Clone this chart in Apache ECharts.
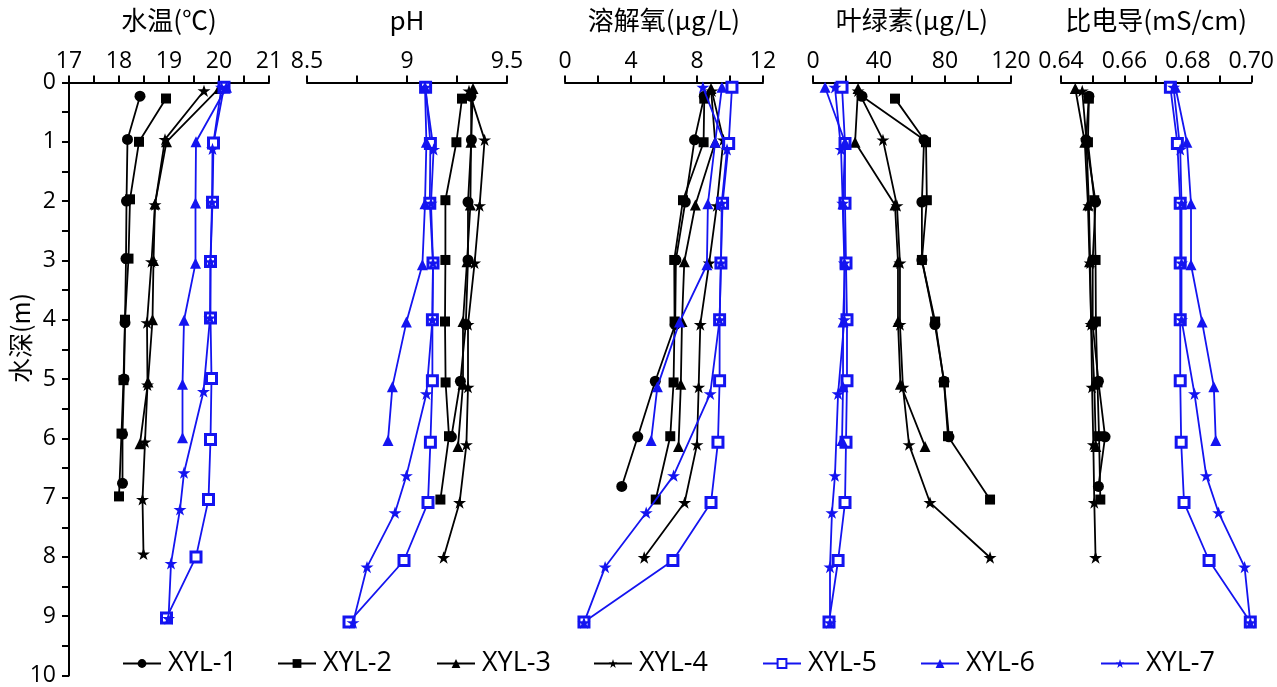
<!DOCTYPE html>
<html><head><meta charset="utf-8">
<script src="https://cdn.jsdelivr.net/npm/echarts@6/dist/echarts.min.js"></script>
<style>html,body{margin:0;padding:0;background:#fff}#c{width:1277px;height:687px}</style>
</head><body><div id="c"></div>
<script>
// ---- data ----
const seriesNames = ['XYL-1','XYL-2','XYL-3','XYL-4','XYL-5','XYL-6','XYL-7'];
const panelNames = ['水温(℃)','pH','溶解氧(μg/L)','叶绿素(μg/L)','比电导(mS/cm)'];

const depth1 = [0.23, 0.96, 2.0, 2.97, 4.05, 5.0, 5.93, 6.76];
const temp1  = [18.42, 18.17, 18.15, 18.14, 18.12, 18.1, 18.07, 18.07];
const ph1    = [9.32, 9.322, 9.305, 9.305, 9.294, 9.267, 9.222, null];
const do1    = [8.44, 7.85, 7.29, 6.72, 6.68, 5.47, 4.41, 3.44];
const chl1   = [29.7, 67.3, 66, 66, 73.9, 79.4, 82.4, null];
const ec1    = [0.6488, 0.6479, 0.6509, 0.65, 0.65, 0.6518, 0.6539, 0.6518];

const depth2 = [0.27, 1.0, 1.97, 2.97, 4.0, 5.02, 5.92, 6.98];
const temp2  = [18.94, 18.4, 18.22, 18.19, 18.12, 18.09, 18.05, 18.0];
const ph2    = [9.275, 9.247, 9.192, 9.192, 9.19, 9.193, 9.21, 9.167];
const do2    = [8.44, 8.4, 7.15, 6.62, 6.64, 6.58, 6.38, 5.5];
const chl2   = [49.7, 68.5, 69, 66, 74, 79.4, 81.8, 107.3];
const ec2    = [0.6488, 0.6485, 0.6505, 0.6509, 0.651, 0.6515, 0.652, 0.6524];

const depth3 = [0.1, 1.0, 2.05, 3.0, 4.0, 5.05, 6.09];
const temp3  = [20.0, 18.95, 18.72, 18.69, 18.67, 18.58, 18.42];
const ph3    = [9.33, 9.32, 9.317, 9.3, 9.28, 9.28, 9.255];
const do3    = [8.85, 9.1, 7.9, 7.23, 7.09, 7.02, 6.88];
const chl3   = [27.3, 25.5, 49.7, 51.5, 51.5, 53, 67.9];
const ec3    = [0.6445, 0.6475, 0.6485, 0.649, 0.6495, 0.6505, 0.651];

const depth4 = [0.14, 0.96, 2.06, 3.02, 4.05, 5.1, 6.06, 7.03, 7.95];
const temp4  = [19.7, 18.92, 18.72, 18.65, 18.56, 18.57, 18.52, 18.47, 18.49];
const ph4    = [9.31, 9.388, 9.363, 9.338, 9.305, 9.305, 9.297, 9.263, 9.183];
const do4    = [8.9, 9.6, 9.2, 8.74, 8.2, 8.1, 8.0, 7.25, 4.8];
const chl4   = [27.3, 42.4, 50.9, 52.7, 52.7, 54.5, 58.2, 70.9, 107.3];
const ec4    = [0.6467, 0.648, 0.6488, 0.6492, 0.6495, 0.6498, 0.6502, 0.6505, 0.6509];

const depth5 = [0.08, 1.02, 2.02, 3.02, 3.97, 4.99, 6.02, 7.03, 8.0, 9.03];
const temp5  = [20.1, 19.89, 19.87, 19.83, 19.83, 19.85, 19.83, 19.79, 19.54, 18.95];
const ph5    = [9.093, 9.117, 9.114, 9.13, 9.127, 9.127, 9.117, 9.105, 8.985, 8.71];
const do5    = [10.12, 9.92, 9.55, 9.45, 9.37, 9.37, 9.27, 8.85, 6.54, 1.15];
const chl5   = [17.6, 19.4, 19.4, 20, 20.6, 20.6, 20, 19.4, 15.2, 9.7];
const ec5    = [0.6745, 0.6767, 0.6776, 0.6776, 0.6776, 0.6776, 0.6779, 0.6788, 0.6867, 0.6997];

const depth6 = [0.08, 1.0, 2.03, 3.05, 4.01, 5.09, 5.99];
const temp6  = [20.15, 19.54, 19.53, 19.53, 19.3, 19.27, 19.27];
const ph6    = [9.09, 9.097, 9.09, 9.077, 8.997, 8.927, 8.905];
const do6    = [9.51, 9.1, 8.66, 8.6, 6.94, 5.6, 5.22];
const chl6   = [7.3, 19.4, 18.2, 19.4, 18.2, 18.2, 17.6];
const ec6    = [0.6761, 0.6797, 0.681, 0.681, 0.6845, 0.6882, 0.6888];

const depth7 = [0.08, 1.12, 2.02, 3.02, 3.97, 5.21, 6.58, 7.2, 8.11, 9.04];
const temp7  = [20.05, 19.87, 19.86, 19.83, 19.82, 19.69, 19.3, 19.22, 19.04, 18.99];
const ph7    = [9.09, 9.133, 9.12, 9.13, 9.127, 9.097, 8.997, 8.94, 8.8, 8.73];
const do7    = [8.36, 9.82, 9.5, 9.45, 9.37, 8.8, 6.58, 4.92, 2.43, 1.15];
const chl7   = [13.3, 17, 18, 19, 19, 15.2, 13.3, 11.5, 10.3, 10.3];
const ec7    = [0.6755, 0.6776, 0.678, 0.678, 0.678, 0.6821, 0.6858, 0.6897, 0.6979, 0.6997];

const xMin = [17, 8.5, 0, 0, 0.64];
const xMax = [21, 9.5, 12, 120, 0.70];
const xInterval = [1, 0.5, 4, 40, 0.02];
const yTicks = [0, 10, 1];

// ---- build ----
const depths = [depth1, depth2, depth3, depth4, depth5, depth6, depth7];
const vals = [
  [temp1, temp2, temp3, temp4, temp5, temp6, temp7],
  [ph1, ph2, ph3, ph4, ph5, ph6, ph7],
  [do1, do2, do3, do4, do5, do6, do7],
  [chl1, chl2, chl3, chl4, chl5, chl6, chl7],
  [ec1, ec2, ec3, ec4, ec5, ec6, ec7]
];

const BLACK = '#000000', BLUE = '#1414f0';
const STAR = 'path://M50,0 L61.8,35.3 L98.9,35.3 L68.9,57.1 L80.4,92.5 L50,70.7 L19.6,92.5 L31.1,57.1 L1.1,35.3 L38.2,35.3 Z';
const styles = [
  {symbol:'circle', size:11, color:BLACK, fill:BLACK},
  {symbol:'rect', size:10, color:BLACK, fill:BLACK},
  {symbol:'triangle', size:11, color:BLACK, fill:BLACK},
  {symbol:STAR, size:13, color:BLACK, fill:BLACK},
  {symbol:'rect', size:10, color:BLUE, fill:'#ffffff', bw:3},
  {symbol:'triangle', size:11, color:BLUE, fill:BLUE},
  {symbol:STAR, size:13, color:BLUE, fill:BLUE}
];

const gridLeft = [69, 307, 565, 813, 1061];
const gridWidth = [200, 200, 198, 198, 198];
const tickFont = 'Open Sans';
const cjkFont = '"Noto Sans CJK SC"';

const grids = [], xAxes = [], yAxes = [], series = [];
for (let p = 0; p < 5; p++) {
  grids.push({left: gridLeft[p], width: gridWidth[p], top: 82.5, height: 597.5});
  xAxes.push({
    type:'value', gridIndex:p, position:'top', min:xMin[p], max:xMax[p], interval:xInterval[p],
    name: panelNames[p], nameLocation:'middle', nameGap:49,
    nameTextStyle:{fontFamily:cjkFont, fontSize:26, color:'#000'},
    axisLine:{show:true, onZero:false, lineStyle:{color:'#000', width:2}},
    axisTick:{show:true, inside:false, length:7, lineStyle:{color:'#000', width:2}},
    minorTick:{show:true, splitNumber:2, length:7, lineStyle:{color:'#000', width:2}},
    splitLine:{show:false}, minorSplitLine:{show:false},
    axisLabel:{fontFamily:tickFont, fontSize:23, color:'#000', margin:10,
      formatter: p === 4 ? (v => v.toFixed(2)) : (v => String(+v.toFixed(2)))}
  });
  yAxes.push({
    type:'value', gridIndex:p, inverse:true, min:yTicks[0], max:yTicks[1], interval:yTicks[2],
    show: p === 0,
    axisLine:{show:true, onZero:false, lineStyle:{color:'#000', width:2}},
    axisTick:{show:true, inside:false, length:7, lineStyle:{color:'#000', width:2}},
    minorTick:{show:true, splitNumber:2, length:7, lineStyle:{color:'#000', width:2}},
    splitLine:{show:false},
    axisLabel:{fontFamily:tickFont, fontSize:23, color:'#000', margin:13}
  });
  for (let s = 0; s < 7; s++) {
    const st = styles[s];
    const data = [];
    depths[s].forEach((d, i) => { const v = vals[p][s][i]; if (v !== null && v !== undefined) data.push([v, d]); });
    series.push({
      type:'line', name: seriesNames[s], xAxisIndex:p, yAxisIndex:p, data,
      symbol: st.symbol, symbolSize: st.size, symbolKeepAspect:true, showAllSymbol:true,
      clip:false, z: s >= 4 ? 3 : 2,
      lineStyle:{color: st.color, width:1.8},
      itemStyle:{color: st.fill, borderColor: st.color, borderWidth: st.bw || 0},
      emphasis:{disabled:true}, animation:false
    });
  }
}

const legendLeft = [122, 277, 436, 593, 762, 920, 1100];
const legends = seriesNames.map((n, i) => ({
  data:[n], left: legendLeft[i], top: 650, padding:0, itemWidth:38, itemHeight:11, itemGap:8,
  textStyle:{fontFamily:tickFont, fontSize:27, color:'#000', padding:[0,0,0,2]}, selectedMode:false
}));

const chart = echarts.init(document.getElementById('c'), null, {renderer:'canvas'});
chart.setOption({
  animation:false,
  backgroundColor:'#fff',
  grid: grids, xAxis: xAxes, yAxis: yAxes, series, legend: legends,
  graphic:[{type:'text', left:8, top:293, rotation: Math.PI/2, style:{text:'水深(m)', font:'25px "Noto Sans CJK SC"', fill:'#000'}}]
});
</script></body></html>
